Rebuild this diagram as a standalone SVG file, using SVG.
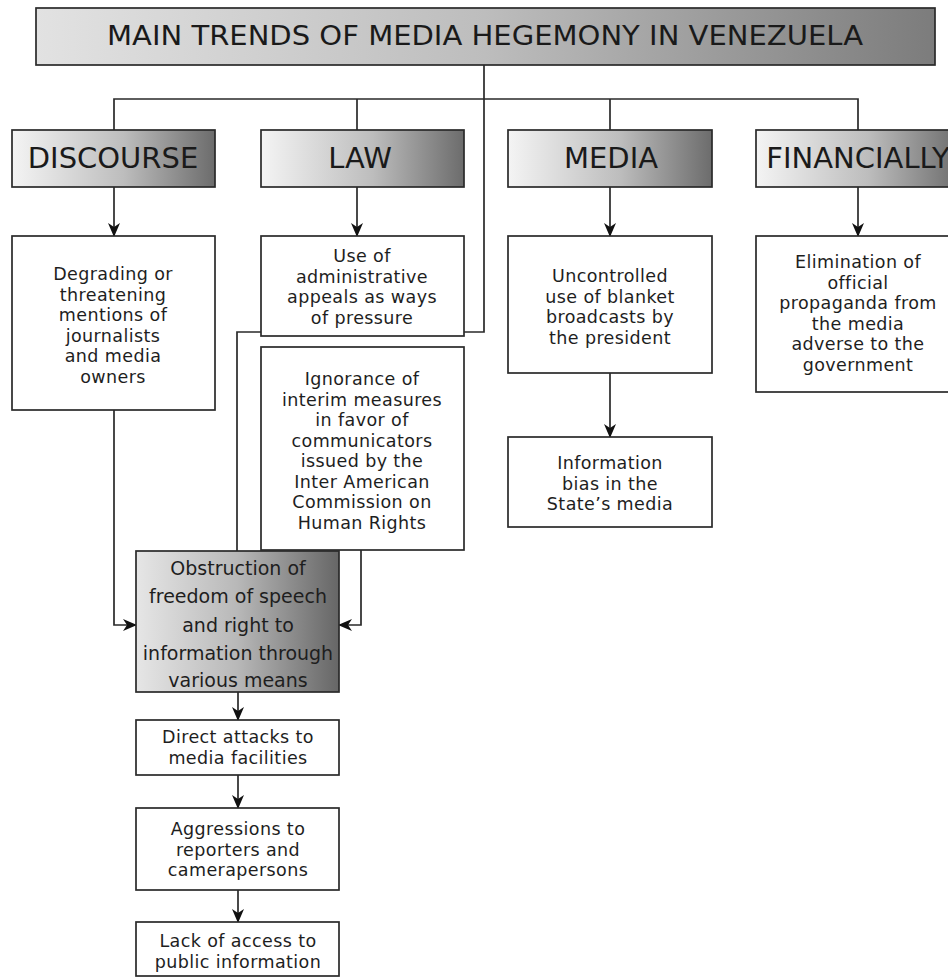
<svg xmlns="http://www.w3.org/2000/svg" width="948" height="977" viewBox="0 0 948 977">
<defs>
<linearGradient id="gTitle" x1="0" y1="0" x2="1" y2="0">
<stop offset="0" stop-color="#e2e2e2"/><stop offset="0.5" stop-color="#bdbdbd"/><stop offset="1" stop-color="#7c7c7c"/>
</linearGradient>
<linearGradient id="gCat" x1="0" y1="0" x2="1" y2="0">
<stop offset="0" stop-color="#f4f4f4"/><stop offset="0.55" stop-color="#bdbdbd"/><stop offset="1" stop-color="#6c6c6c"/>
</linearGradient>
<linearGradient id="gObs" x1="0" y1="0" x2="1" y2="0">
<stop offset="0" stop-color="#e6e6e6"/><stop offset="0.5" stop-color="#b8b8b8"/><stop offset="1" stop-color="#666666"/>
</linearGradient>
<marker id="arr" viewBox="0 0 14 12" refX="13" refY="6" markerWidth="14" markerHeight="12" markerUnits="userSpaceOnUse" orient="auto">
<path d="M0,0 L14,6 L0,12 L4,6 z" fill="#111"/>
</marker>
<style>
.box{fill:#fff;stroke:#2a2a2a;stroke-width:1.7}
.t{font-family:"DejaVu Sans","Liberation Sans",sans-serif;font-size:17.5px;letter-spacing:0.4px;fill:#1e1e1e;text-anchor:middle}
.cat{font-family:"DejaVu Sans","Liberation Sans",sans-serif;font-size:29px;fill:#1a1a1a;text-anchor:middle}
.ln{fill:none;stroke:#2a2a2a;stroke-width:1.7}
.ar{fill:none;stroke:#2a2a2a;stroke-width:1.7;marker-end:url(#arr)}
</style>
</defs>

<g id="connectors">
<path class="ln" d="M484,65 V332 H237 V551"/>
<path class="ln" d="M114,130 V99 H858 V130"/>
<path class="ln" d="M357,99 V130"/>
<path class="ln" d="M610,99 V130"/>
<path class="ar" d="M114,187 V236"/>
<path class="ar" d="M357,187 V236"/>
<path class="ar" d="M610,187 V236"/>
<path class="ar" d="M858,187 V236"/>
<path class="ar" d="M114,410 V625 H136"/>
<path class="ar" d="M361,550 V625 H339"/>
<path class="ar" d="M610,373 V437"/>
<path class="ar" d="M238,692 V720"/>
<path class="ar" d="M238,775 V808"/>
<path class="ar" d="M238,890 V922"/>
</g>

<g id="title">
<rect x="36" y="8" width="899" height="57" fill="url(#gTitle)" stroke="#2a2a2a" stroke-width="1.7"/>
<text x="485" y="45" font-family="DejaVu Sans, Liberation Sans, sans-serif" font-size="27" fill="#1a1a1a" text-anchor="middle" textLength="756" lengthAdjust="spacingAndGlyphs">MAIN TRENDS OF MEDIA HEGEMONY IN VENEZUELA</text>
</g>

<g id="cat-discourse">
<rect x="12" y="130" width="203" height="57" fill="url(#gCat)" stroke="#2a2a2a" stroke-width="1.7"/>
<text class="cat" x="113" y="168">DISCOURSE</text>
</g>
<g id="cat-law">
<rect x="261" y="130" width="203" height="57" fill="url(#gCat)" stroke="#2a2a2a" stroke-width="1.7"/>
<text class="cat" x="360" y="168">LAW</text>
</g>
<g id="cat-media">
<rect x="508" y="130" width="204" height="57" fill="url(#gCat)" stroke="#2a2a2a" stroke-width="1.7"/>
<text class="cat" x="611" y="168">MEDIA</text>
</g>
<g id="cat-financially">
<rect x="756" y="130" width="204" height="57" fill="url(#gCat)" stroke="#2a2a2a" stroke-width="1.7"/>
<text class="cat" x="858" y="168">FINANCIALLY</text>
</g>

<g id="degrading">
<rect class="box" x="12" y="236" width="203" height="174"/>
<text class="t"><tspan x="113" y="280">Degrading or</tspan><tspan x="113" y="300.6">threatening</tspan><tspan x="113" y="321">mentions of</tspan><tspan x="113" y="342">journalists</tspan><tspan x="113" y="362">and media</tspan><tspan x="113" y="383">owners</tspan></text>
</g>

<g id="use-of">
<rect class="box" x="261" y="236" width="203" height="100"/>
<text class="t"><tspan x="362" y="262">Use of</tspan><tspan x="362" y="282.5">administrative</tspan><tspan x="362" y="303">appeals as ways</tspan><tspan x="362" y="323.5">of pressure</tspan></text>
</g>

<g id="ignorance">
<rect class="box" x="261" y="347" width="203" height="203"/>
<text class="t"><tspan x="362" y="385">Ignorance of</tspan><tspan x="362" y="405.5">interim measures</tspan><tspan x="362" y="426">in favor of</tspan><tspan x="362" y="446.5">communicators</tspan><tspan x="362" y="467">issued by the</tspan><tspan x="362" y="487.5">Inter American</tspan><tspan x="362" y="508">Commission on</tspan><tspan x="362" y="528.5">Human Rights</tspan></text>
</g>

<g id="uncontrolled">
<rect class="box" x="508" y="236" width="204" height="137"/>
<text class="t"><tspan x="610" y="282">Uncontrolled</tspan><tspan x="610" y="302.5">use of blanket</tspan><tspan x="610" y="323">broadcasts by</tspan><tspan x="610" y="343.5">the president</tspan></text>
</g>

<g id="information-bias">
<rect class="box" x="508" y="437" width="204" height="90"/>
<text class="t"><tspan x="610" y="469">Information</tspan><tspan x="610" y="489.5">bias in the</tspan><tspan x="610" y="510">State’s media</tspan></text>
</g>

<g id="elimination">
<rect class="box" x="756" y="236" width="204" height="156"/>
<text class="t"><tspan x="858" y="268">Elimination of</tspan><tspan x="858" y="288.5">official</tspan><tspan x="858" y="309">propaganda from</tspan><tspan x="858" y="329.5">the media</tspan><tspan x="858" y="350">adverse to the</tspan><tspan x="858" y="370.5">government</tspan></text>
</g>

<g id="obstruction">
<rect x="136" y="551" width="203" height="141" fill="url(#gObs)" stroke="#2a2a2a" stroke-width="1.7"/>
<text class="t" style="font-size:19px;letter-spacing:0"><tspan x="238" y="575">Obstruction of</tspan><tspan x="238" y="603">freedom of speech</tspan><tspan x="238" y="631.5">and right to</tspan><tspan x="238" y="659.5">information through</tspan><tspan x="238" y="687">various means</tspan></text>
</g>

<g id="direct-attacks">
<rect class="box" x="136" y="720" width="203" height="55"/>
<text class="t"><tspan x="238" y="743">Direct attacks to</tspan><tspan x="238" y="763.5">media facilities</tspan></text>
</g>

<g id="aggressions">
<rect class="box" x="136" y="808" width="203" height="82"/>
<text class="t"><tspan x="238" y="835">Aggressions to</tspan><tspan x="238" y="855.5">reporters and</tspan><tspan x="238" y="876">camerapersons</tspan></text>
</g>

<g id="lack-of-access">
<rect class="box" x="136" y="922" width="203" height="54"/>
<text class="t"><tspan x="238" y="947">Lack of access to</tspan><tspan x="238" y="967.5">public information</tspan></text>
</g>
</svg>
